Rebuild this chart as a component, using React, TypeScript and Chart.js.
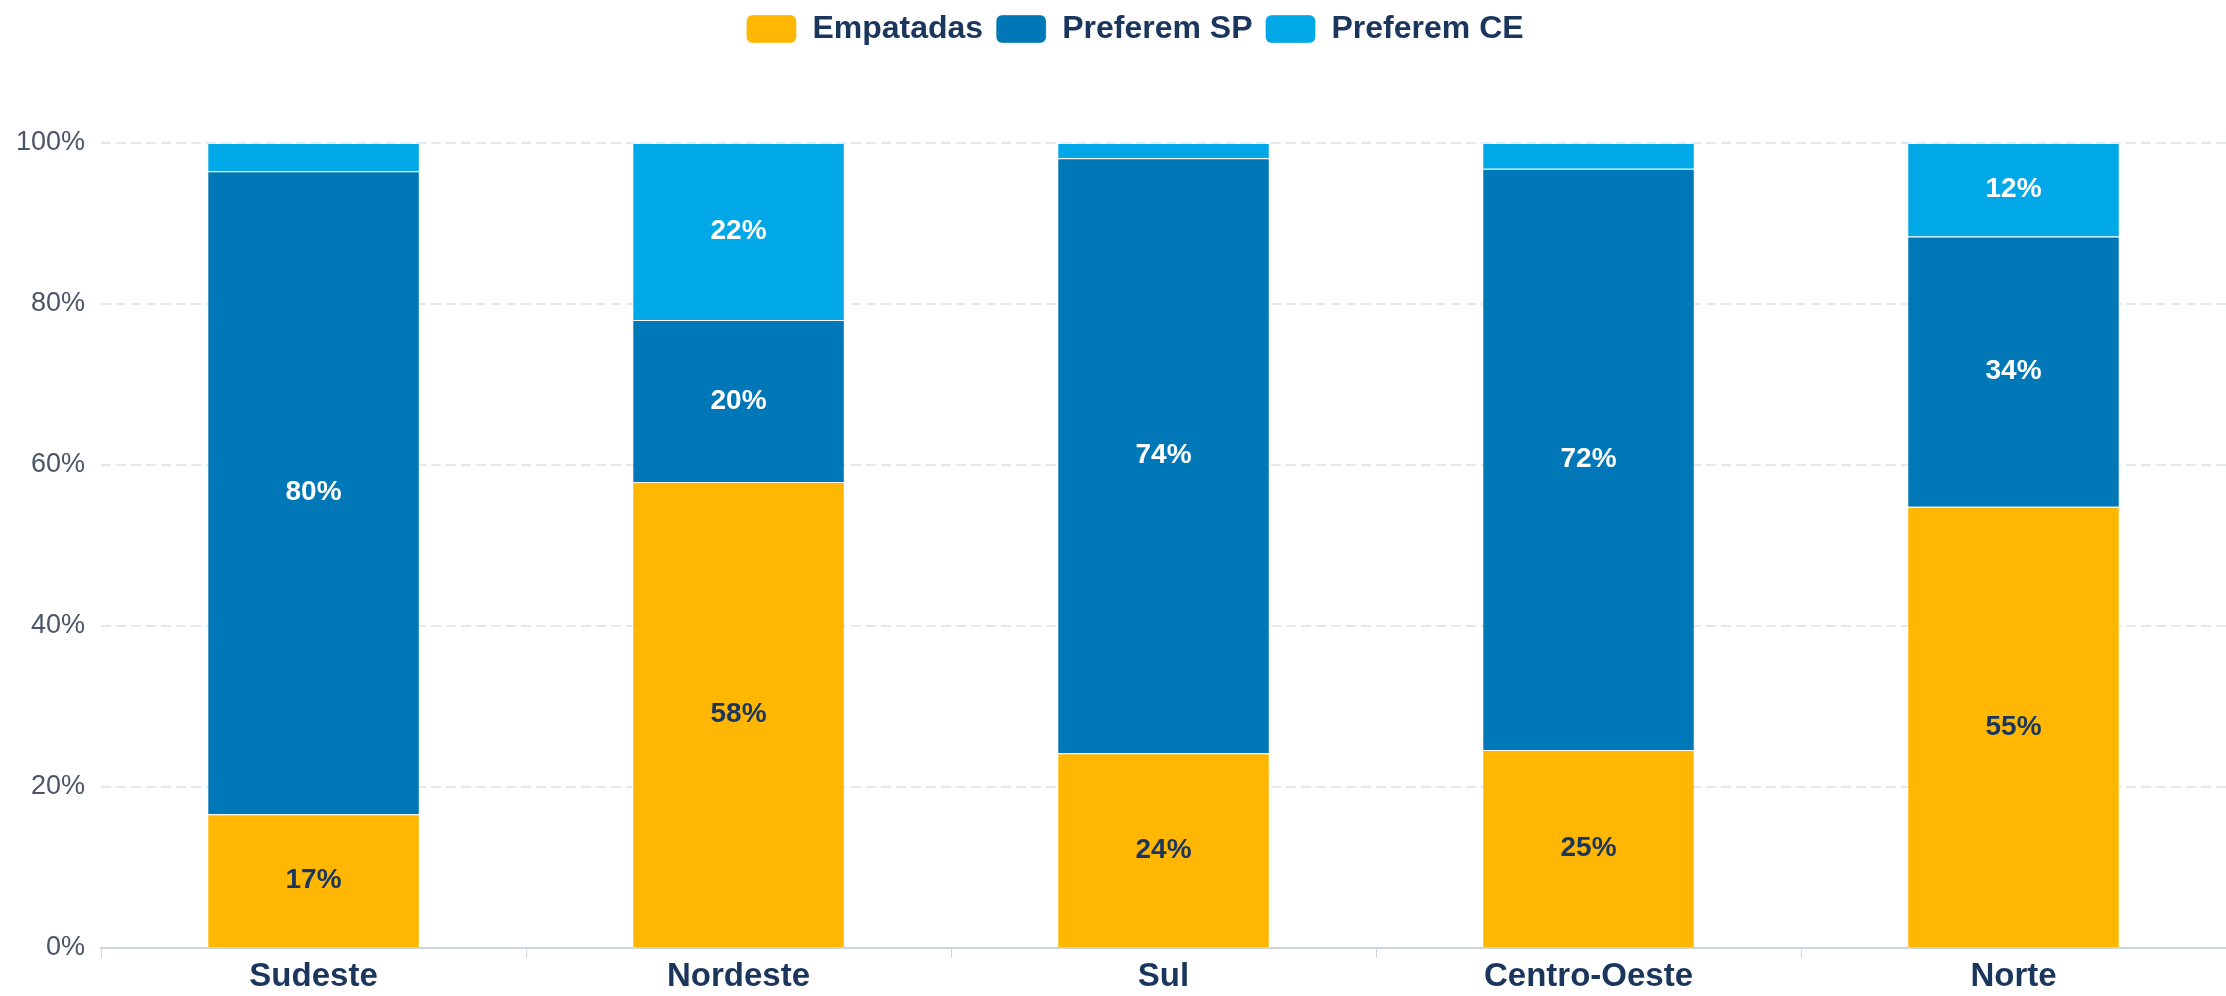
import React, { useEffect, useRef } from "react";
import { Chart, registerables } from "chart.js";

Chart.register(...registerables);

const categories = ["Sudeste", "Nordeste", "Sul", "Centro-Oeste", "Norte"];
const empatadas = [16.6, 57.9, 24.2, 24.6, 54.8];
const preferemSP = [79.9, 20.1, 73.9, 72.2, 33.6];
const preferemCE = [3.5, 22.0, 1.9, 3.2, 11.6];
const yTicks = [0, 20, 40, 60, 80, 100];

const FONT = "'Liberation Sans', Arial, Helvetica, sans-serif";
const NAVY = "#1b365d";

const labelPlugin = {
  id: "segLabels",
  afterDatasetsDraw(chart: any) {
    const ctx = chart.ctx;
    ctx.save();
    ctx.font = `bold 28px ${FONT}`;
    ctx.textAlign = "center";
    ctx.textBaseline = "middle";
    chart.data.datasets.forEach((ds: any, di: number) => {
      const meta = chart.getDatasetMeta(di);
      meta.data.forEach((bar: any, i: number) => {
        const v = ds.data[i];
        if (v < 5) return;
        const { x, y, base } = bar.getProps(["x", "y", "base"], true);
        ctx.fillStyle = di === 0 ? NAVY : "#ffffff";
        ctx.fillText(Math.round(v) + "%", x, (y + base) / 2);
      });
    });
    ctx.restore();
  },
};

const legendTweak = {
  id: "legendTweak",
  beforeInit(chart: any) {
    const legend = chart.legend;
    const origFit = legend.fit;
    legend.fit = function () {
      origFit.call(this);
      this.height += 88;
    };
    const origDraw = legend.draw;
    legend.draw = function (...args: any[]) {
      const ctx = this.ctx;
      ctx.save();
      ctx.translate(22, 0);
      origDraw.apply(this, args);
      ctx.restore();
    };
  },
};

export default function App() {
  const ref = useRef<HTMLCanvasElement>(null);
  useEffect(() => {
    document.body.style.margin = "0";
    const chart = new Chart(ref.current!, {
      type: "bar",
      data: {
        labels: categories,
        datasets: [
          { label: "Empatadas", data: empatadas, backgroundColor: "#FFB703", borderColor: "rgba(255,255,255,0.35)", borderWidth: 1 },
          { label: "Preferem SP", data: preferemSP, backgroundColor: "#0077B6", borderColor: "rgba(255,255,255,0.35)", borderWidth: 1 },
          { label: "Preferem CE", data: preferemCE, backgroundColor: "#00A8E8", borderColor: "rgba(255,255,255,0.35)", borderWidth: 1 },
        ],
      },
      options: {
        responsive: false,
        animation: false,
        layout: { padding: { left: 0, right: 0, top: 0, bottom: 0 } },
        datasets: { bar: { barPercentage: 0.5, categoryPercentage: 1 } },
        plugins: {
          legend: {
            position: "top",
            labels: {
              boxWidth: 50,
              boxHeight: 28,
              padding: 13,
              useBorderRadius: true,
              borderRadius: 6,
              color: NAVY,
              font: { family: FONT, size: 32, weight: "bold" },
            },
          },
          tooltip: { enabled: false },
        },
        scales: {
          x: {
            stacked: true,
            grid: { drawOnChartArea: false, drawTicks: true, tickLength: 10, color: "#cbd5e0", offset: true },
            border: { color: "#cbd5e0", width: 2 },
            ticks: { color: NAVY, padding: 3, font: { family: FONT, size: 33, weight: "bold", lineHeight: 0.97 } },
          },
          y: {
            stacked: true,
            min: 0,
            max: 100,
            afterBuildTicks(axis: any) {
              axis.ticks = yTicks.map((v) => ({ value: v }));
            },
            grid: { color: "#e2e8f0", lineWidth: 2, drawTicks: false },
            border: { display: false, dash: [10, 5] },
            ticks: {
              color: "#4a5568",
              padding: 16,
              font: { family: FONT, size: 27 },
              callback: (v: any) => v + "%",
            },
          },
        },
      },
      plugins: [labelPlugin, legendTweak],
    });
    return () => chart.destroy();
  }, []);
  return <canvas ref={ref} width={2226} height={996} style={{ display: "block" }} />;
}
